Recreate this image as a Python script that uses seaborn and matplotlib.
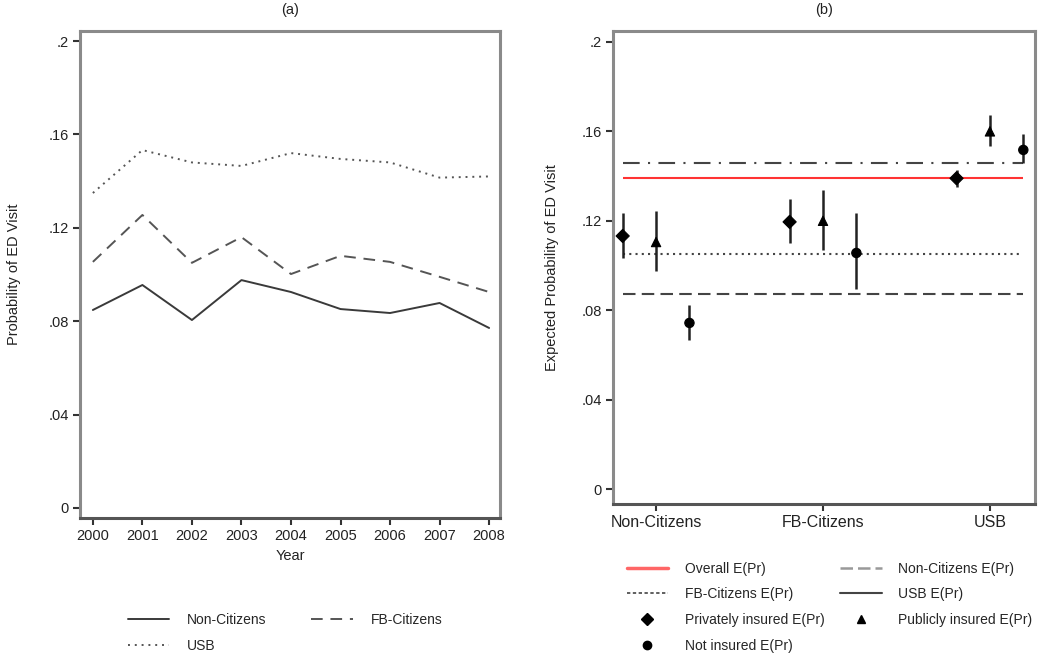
import numpy as np
import pandas as pd
import matplotlib
matplotlib.use("Agg")
import matplotlib.pyplot as plt
import seaborn as sns
from matplotlib.lines import Line2D

sns.set_theme(style="white")
plt.rcParams['font.family'] = ['Liberation Sans', 'DejaVu Sans']

# ---------------- data ----------------
years = [2000, 2001, 2002, 2003, 2004, 2005, 2006, 2007, 2008]
non_citizens = [0.0848, 0.0955, 0.0805, 0.0976, 0.0925, 0.0852, 0.0835, 0.0878, 0.0771]
fb_citizens = [0.1054, 0.1255, 0.1050, 0.1160, 0.1002, 0.1080, 0.1054, 0.0990, 0.0925]
usb = [0.1349, 0.1533, 0.1480, 0.1465, 0.1520, 0.1495, 0.1480, 0.1415, 0.1420]

groups = ["Non-Citizens", "FB-Citizens", "USB"]
insurance = ["Privately insured E(Pr)", "Publicly insured E(Pr)", "Not insured E(Pr)"]
# expected probabilities: rows = groups, cols = insurance
ep_est = [[0.1132, 0.1105, 0.0743],
          [0.1195, 0.1200, 0.1056],
          [0.1390, 0.1600, 0.1517]]
ep_lo = [[0.1034, 0.0975, 0.0667],
         [0.1100, 0.1070, 0.0895],
         [0.1350, 0.1535, 0.1459]]
ep_hi = [[0.1235, 0.1244, 0.0823],
         [0.1297, 0.1338, 0.1235],
         [0.1427, 0.1673, 0.1590]]

overall_ep = 0.1390
group_ep = {"Non-Citizens E(Pr)": 0.0872, "FB-Citizens E(Pr)": 0.1051, "USB E(Pr)": 0.1459}

yticks = [0, 0.04, 0.08, 0.12, 0.16, 0.2]
ytick_labels = ["0", ".04", ".08", ".12", ".16", ".2"]

# ---------------- figure ----------------
W, H = 1050, 662
fig = plt.figure(figsize=(W / 100, H / 100), dpi=100)

def px_axes(l, t, r, b):
    return fig.add_axes([l / W, 1 - b / H, (r - l) / W, (b - t) / H])

frame_col = "#8a8a8a"
line_col = "#3a3a3a"

def style_frame(ax):
    for s in ax.spines.values():
        s.set_visible(True)
        s.set_color(frame_col)
        s.set_linewidth(2.2)
    ax.spines['bottom'].set_color("#555555")
    ax.tick_params(axis='both', direction='out', length=5, width=1.5, color="#333333",
                   labelsize=10.5, labelcolor="#222222", pad=3)
    ax.tick_params(axis='y', left=True)
    ax.tick_params(axis='x', bottom=True)
    ax.set_yticks(yticks)
    ax.set_yticklabels(ytick_labels)
    ax.grid(False)

def row_major(items, ncol=2):
    # reorder so that a column-filled legend reads row by row
    nrow = int(np.ceil(len(items) / ncol))
    out = []
    for c in range(ncol):
        for r in range(nrow):
            i = r * ncol + c
            if i < len(items):
                out.append(items[i])
    return out

# ---------- panel (a) ----------
ax1 = px_axes(80, 31, 500, 518)
df = pd.DataFrame({
    "Year": years * 3,
    "p": non_citizens + fb_citizens + usb,
    "grp": ["Non-Citizens"] * 9 + ["FB-Citizens"] * 9 + ["USB"] * 9,
})
dash_map = {"Non-Citizens": "", "FB-Citizens": (6, 4), "USB": (1, 2.5)}
sns.lineplot(data=df, x="Year", y="p", hue="grp", style="grp",
             palette={"Non-Citizens": line_col, "FB-Citizens": "#555555", "USB": "#555555"},
             dashes=dash_map, linewidth=1.4, ax=ax1, legend=False)
ax1.set_xlim(1999.74, 2008.22)
ax1.set_ylim(-0.0043, 0.2043)
style_frame(ax1)
ax1.set_xticks(years)
ax1.set_xticklabels([str(y) for y in years])
ax1.set_xlabel("Year", fontsize=10.5, color="#222222", labelpad=4)
ax1.set_ylabel("Probability of ED Visit", fontsize=10.5, color="#222222", labelpad=20)
ax1.set_title("(a)", fontsize=10.5, color="#222222", pad=12)

h1 = [Line2D([], [], color=line_col, lw=1.4),
      Line2D([], [], color="#555555", lw=1.4, dashes=(6, 4)),
      Line2D([], [], color="#555555", lw=1.4, dashes=(1, 2.5))]
l1 = ["Non-Citizens", "FB-Citizens", "USB"]
fig.legend(row_major(h1), row_major(l1), ncol=2, frameon=False,
           loc="upper left", bbox_to_anchor=(115 / W, 1 - 600 / H),
           fontsize=10, handlelength=3.0, columnspacing=3.2, labelspacing=0.9,
           handletextpad=1.3)

# ---------- panel (b) ----------
ax2 = px_axes(613, 31, 1035, 504)
offsets = [-0.2, 0.0, 0.2]
rows = []
for gi, g in enumerate(groups):
    for ii, ins in enumerate(insurance):
        rows.append({"x": gi + 1 + offsets[ii], "est": ep_est[gi][ii],
                     "lo": ep_lo[gi][ii], "hi": ep_hi[gi][ii], "ins": ins})
pdf = pd.DataFrame(rows)

x0, x1 = 1 + offsets[0], 3 + offsets[2]
ax2.hlines(overall_ep, x0, x1, color="#ff3333", lw=1.5, zorder=2)
ax2.hlines(group_ep["Non-Citizens E(Pr)"], x0, x1, color="#444444", lw=1.5,
           linestyles=[(0, (6, 3))], zorder=2)
ax2.hlines(group_ep["FB-Citizens E(Pr)"], x0, x1, color="#444444", lw=1.5,
           linestyles=[(0, (1, 2))], zorder=2)
ax2.hlines(group_ep["USB E(Pr)"], x0, x1, color="#444444", lw=1.5,
           linestyles=[(0, (8, 4, 1, 4))], zorder=2)

ax2.vlines(pdf["x"], pdf["lo"], pdf["hi"], color="#222222", lw=1.8, zorder=3)
marker_map = {insurance[0]: "D", insurance[1]: "^", insurance[2]: "o"}
sns.scatterplot(data=pdf, x="x", y="est", style="ins", markers=marker_map,
                color="black", s=45, edgecolor="black", linewidth=0.8,
                ax=ax2, legend=False, zorder=4)
ax2.set_xlim(0.742, 3.27)
ax2.set_ylim(-0.0067, 0.2049)
style_frame(ax2)
ax2.set_xticks([1, 2, 3])
ax2.set_xticklabels(groups, fontsize=11.5)
ax2.set_xlabel("")
ax2.set_ylabel("Expected Probability of ED Visit", fontsize=10.5, color="#222222", labelpad=16)
ax2.set_title("(b)", fontsize=10.5, color="#222222", pad=12)

h2 = [Line2D([], [], color="#ff6666", lw=2.5),
      Line2D([], [], color="#999999", lw=1.8, dashes=(5, 2)),
      Line2D([], [], color="#444444", lw=1.2, dashes=(2, 1.5)),
      Line2D([], [], color="#444444", lw=1.5),
      Line2D([], [], color="black", marker="D", ls="", ms=6),
      Line2D([], [], color="black", marker="^", ls="", ms=6),
      Line2D([], [], color="black", marker="o", ls="", ms=6)]
l2 = ["Overall E(Pr)", "Non-Citizens E(Pr)", "FB-Citizens E(Pr)", "USB E(Pr)",
      "Privately insured E(Pr)", "Publicly insured E(Pr)", "Not insured E(Pr)"]
fig.legend(row_major(h2), row_major(l2), ncol=2, frameon=False, loc="upper left",
           bbox_to_anchor=(614 / W, 1 - 549 / H), fontsize=10,
           handlelength=3.0, columnspacing=1.1, labelspacing=0.85, handletextpad=1.2)

fig.savefig("out.png", dpi=100)
